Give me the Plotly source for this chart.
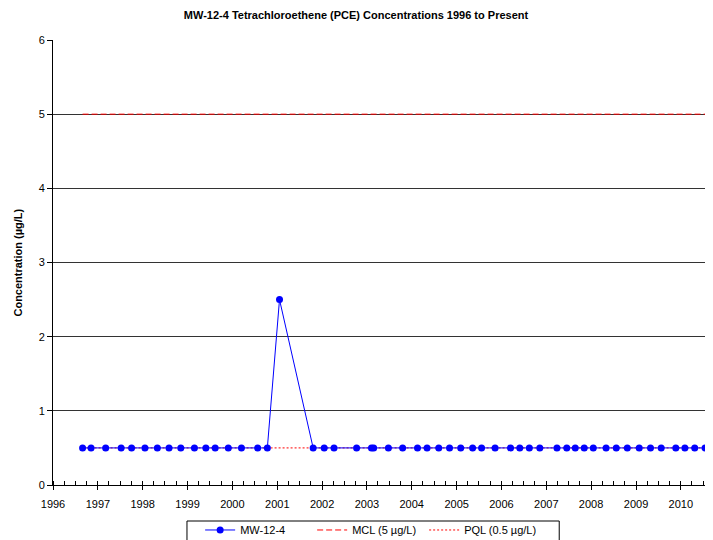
"""MW-12-4 PCE concentration time series chart."""

import plotly.graph_objects as go

# sample dates
sample_dates = [
    "1996-08-29", "1996-11-06", "1997-03-05", "1997-07-09", "1997-10-02",
    "1998-01-19", "1998-04-30", "1998-08-03", "1998-11-07", "1999-02-26",
    "1999-05-30", "1999-08-14", "1999-11-29", "2000-03-15", "2000-07-25",
    "2000-10-12", "2001-01-19", "2001-10-20", "2002-01-18", "2002-04-08",
    "2002-10-09", "2003-02-07", "2003-02-25", "2003-06-25", "2003-10-19",
    "2004-02-17", "2004-05-05", "2004-08-08", "2004-11-04", "2005-02-03",
    "2005-05-11", "2005-07-23", "2005-11-10", "2006-03-16", "2006-05-30",
    "2006-08-16", "2006-11-09", "2007-03-29", "2007-06-17", "2007-08-25",
    "2007-11-06", "2008-01-19", "2008-05-02", "2008-07-24", "2008-10-22",
    "2009-01-27", "2009-04-29", "2009-07-25", "2009-11-21", "2010-02-03",
    "2010-04-24", "2010-07-17",
]
pce_values = [0.5] * 16 + [2.5] + [0.5] * 35

mcl_value = 5.0
pql_value = 0.5

year_ticks = [f"{y}-01-01" for y in range(1996, 2011)]
year_labels = [str(y) for y in range(1996, 2011)]
x_range = ["1996-01-01", "2010-09-20"]
y_range = [0, 6]

FONT = "Arial, Liberation Sans, sans-serif"

# page body has an 8px margin, so the figure is sized to what is visible
W, H = 705, 532

edge = [sample_dates[0], sample_dates[-1]]

fig = go.Figure()
# reference lines first so the data series sits on top
fig.add_trace(
    go.Scatter(
        x=edge,
        y=[mcl_value, mcl_value],
        mode="lines",
        name="MCL (5 µg/L)",
        legendrank=2,
        line=dict(color="#FF0000", width=1, dash="6px,3px"),
    )
)
fig.add_trace(
    go.Scatter(
        x=edge,
        y=[pql_value, pql_value],
        mode="lines",
        name="PQL (0.5 µg/L)",
        legendrank=3,
        line=dict(color="#FF0000", width=1, dash="2px,2px"),
    )
)
fig.add_trace(
    go.Scatter(
        x=sample_dates,
        y=pce_values,
        mode="lines+markers",
        name="MW-12-4",
        legendrank=1,
        line=dict(color="#0000FF", width=1),
        marker=dict(color="#0000FF", size=7),
    )
)
# invisible trace so that the crossing-tick overlay axis is rendered
fig.add_trace(
    go.Scatter(x=x_range, y=[None, None], xaxis="x2", showlegend=False, hoverinfo="skip")
)

fig.update_layout(
    width=W,
    height=H,
    margin=dict(l=45, r=0, t=32, b=55, autoexpand=False),
    paper_bgcolor="white",
    plot_bgcolor="white",
    font=dict(family=FONT, size=11, color="black"),
    title=dict(
        text="<b>MW-12-4 Tetrachloroethene (PCE) Concentrations 1996 to Present</b>",
        x=348 / W,
        xref="container",
        y=1 - 7 / H,
        yref="container",
        yanchor="middle",
        xanchor="center",
        font=dict(size=11, family=FONT, color="black"),
    ),
    xaxis=dict(
        type="date",
        range=x_range,
        tickvals=year_ticks,
        ticktext=year_labels,
        ticks="outside",
        ticklen=4,
        tickcolor="black",
        ticklabelstandoff=5,
        showline=True,
        linecolor="black",
        linewidth=1,
        showgrid=False,
        zeroline=False,
        automargin=False,
        minor=dict(dtick="M3", ticks="inside", ticklen=4, tickcolor="black", showgrid=False),
        tickfont=dict(size=11),
    ),
    xaxis2=dict(
        type="date",
        range=x_range,
        overlaying="x",
        anchor="y",
        side="bottom",
        tickvals=year_ticks,
        showticklabels=False,
        ticks="inside",
        ticklen=4,
        tickcolor="black",
        showgrid=False,
        zeroline=False,
        automargin=False,
    ),
    yaxis=dict(
        range=y_range,
        dtick=1,
        ticks="outside",
        ticklen=5,
        tickcolor="black",
        showline=True,
        linecolor="black",
        linewidth=1,
        showgrid=True,
        gridcolor="#333333",
        gridwidth=1,
        zeroline=False,
        automargin=False,
        tickfont=dict(size=11),
    ),
    legend=dict(
        orientation="h",
        x=0.4775,
        xanchor="center",
        y=-0.0685,
        yanchor="top",
        borderwidth=0,
        bgcolor="rgba(0,0,0,0)",
        font=dict(size=11),
        itemwidth=30,
        entrywidth=67,
        entrywidthmode="pixels",
    ),
    shapes=[
        # legend frame, running off the bottom edge as in the original
        dict(
            type="rect",
            xref="paper",
            yref="paper",
            x0=0.203,
            x1=0.767,
            y0=-0.0809,
            y1=-0.3,
            line=dict(color="black", width=1),
            fillcolor="rgba(0,0,0,0)",
            layer="below",
        )
    ],
    annotations=[
        dict(
            text="<b>Concentration (µg/L)</b>",
            xref="paper",
            yref="paper",
            x=-0.0545,
            y=0.5,
            xanchor="center",
            yanchor="middle",
            textangle=-90,
            showarrow=False,
            font=dict(size=11, family=FONT, color="black"),
        )
    ],
    showlegend=True,
)

fig.write_html("out.html")
